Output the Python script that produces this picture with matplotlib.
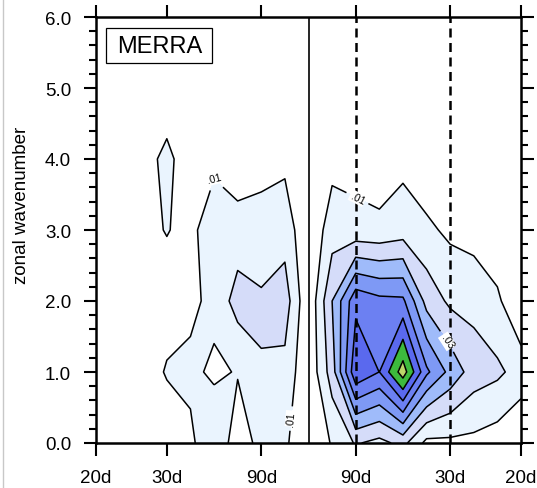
import numpy as np
import matplotlib
matplotlib.use("Agg")
import matplotlib.pyplot as plt
from matplotlib.patches import Rectangle
from matplotlib.lines import Line2D

plt.rcParams['font.family'] = ['Liberation Sans', 'DejaVu Sans']

# frequency axis (cycles/day, 180-day resolution), westward < 0 < eastward
freq = np.arange(-9, 10) / 180.0
wavenum = np.arange(0, 7)

# power spectrum, one list per zonal wavenumber, columns follow freq
k0 = [0, 0, 0, .002, .0077, .019, .004, .0134, .012, 0,
      .011, .021, .017, .023, .0073, .0077, .0074, .0049, 0]
k1 = [0, 0, .004, .011, .0125, .008, .0107, .019, .0169, .0016,
      .025, .068, .0599, .0853, .052, .037, .025, .022, .016]
k2 = [0, 0, .003, .005, .0075, .013, .024, .022, .0252, .0014,
      .03, .0573, .0528, .052, .0265, .018, .017, .012, 0]
k3 = [0, 0, .0072, .0105, .007, .017, .0147, .0115, .0157, .002,
      .015, .013, .0125, .015, .012, .008, .006, .002, 0]
k4 = [0, 0, .004, .014, .001, .0073, .0032, .0087, .0078, 0,
      .007, .0065, .004, .0074, .003, .002, 0, 0, 0]
k5 = [0] * 19
k6 = [0] * 19

periods = [20, 30, 90]
period_labels = ['20d', '30d', '90d']
levels = [.01, .02, .03, .04, .05, .06, .07, .08]
fill_colors = ['#eaf4fe', '#d5dcf9', '#9fbbfa', '#7e99f5',
               '#6c80f2', '#5a69ee', '#3dba3d', '#bcd66a']

power = np.array([k0, k1, k2, k3, k4, k5, k6])

fig = plt.figure(figsize=(5.37, 4.89), dpi=100)
ax = fig.add_axes([96/537, 45/489, 425/537, 426/489])

ax.contourf(freq, wavenum, power, levels=levels + [1.0], colors=fill_colors)
plain = [lv for lv in levels if lv not in (.01, .03)]
ax.contour(freq, wavenum, power, levels=plain, colors='k', linewidths=1.1)

# labelled contours get their own sets so the labels can be placed by hand
cs01 = ax.contour(freq, wavenum, power, levels=[.01], colors='k', linewidths=1.1)
cs03 = ax.contour(freq, wavenum, power, levels=[.03], colors='k', linewidths=1.1)
labels = ax.clabel(cs01, fmt={.01: '.01'}, fontsize=7.5, inline=True,
                   manual=[(-0.0222, 3.75), (0.0111, 3.4), (-0.0051, 0.35)])
labels += ax.clabel(cs03, fmt={.03: '.03'}, fontsize=7.5, inline=True,
                    manual=[(0.0331, 1.45)])
for t in labels:
    t.set_bbox(dict(fc='white', ec='none', pad=0.6))

ax.axvline(0, color='k', lw=1.2)
for p in periods[1:]:
    ax.axvline(1.0 / p, color='k', lw=1.8, ls=(0, (3.6, 2.2)))

ax.set_xlim(-0.05, 0.05)
ax.set_ylim(0, 6)

xt = [-1.0 / p for p in periods] + [1.0 / p for p in periods[::-1]]
ax.set_xticks(xt)
ax.set_xticklabels(period_labels + period_labels[::-1])
ax.set_yticks(np.arange(0, 7))
ax.set_yticklabels(['%.1f' % v for v in range(7)])
ax.set_yticks(np.arange(0, 6.01, 0.2), minor=True)

ax.tick_params(axis='both', which='both', direction='out', top=True, right=True,
               width=1.5)
ax.tick_params(which='major', length=9, labelsize=13.5)
ax.tick_params(which='minor', length=5)
ax.tick_params(axis='x', pad=10)
ax.tick_params(axis='y', pad=9)
for s in ax.spines.values():
    s.set_linewidth(1.8)

ax.set_ylabel('zonal wavenumber', fontsize=13.5)
ax.yaxis.set_label_coords(-0.155, 0.559)

ax.add_patch(Rectangle((0.024, 0.892), 0.25, 0.082, transform=ax.transAxes,
                       fc='white', ec='k', lw=0.9, zorder=5))
ax.text(0.149, 0.933, 'MERRA', transform=ax.transAxes, ha='center',
        va='center', fontsize=17, zorder=6)

fig.add_artist(Line2D([3/537, 3/537], [0, 1], color='#c8c8c8', lw=1))

fig.savefig('out.png', dpi=100)
